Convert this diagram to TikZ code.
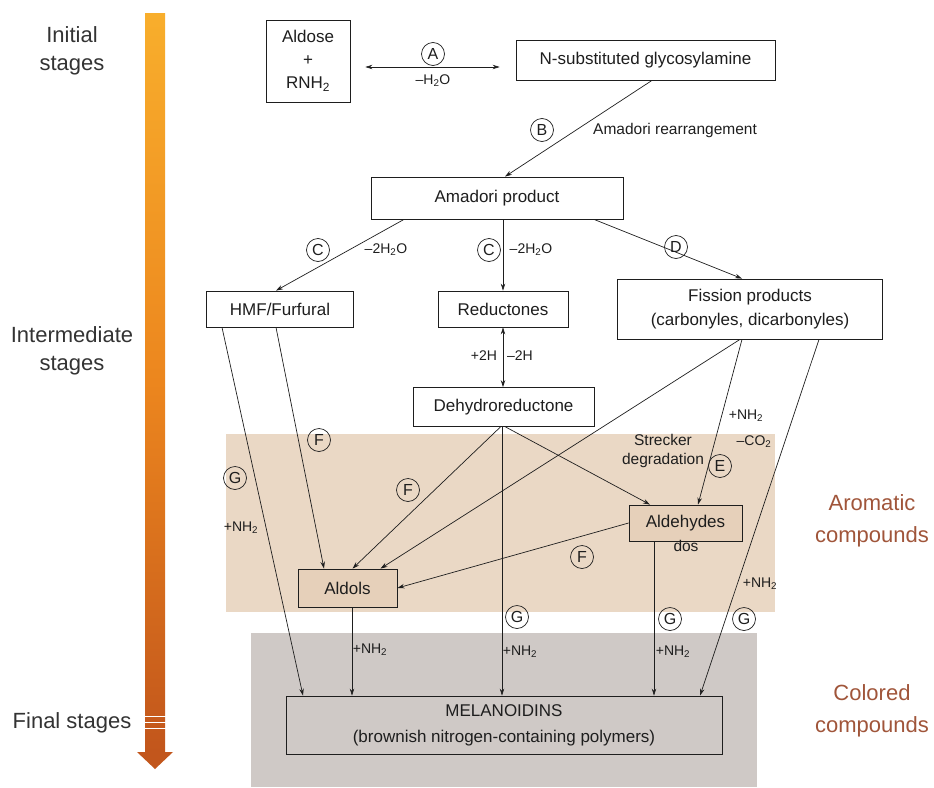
\documentclass[tikz,border=0pt]{standalone}
\usepackage{fontspec}
\setmainfont{Liberation Sans}
\usetikzlibrary{arrows.meta}
\definecolor{tanbg}{HTML}{EAD8C5}
\definecolor{tanbox}{HTML}{E6D0BA}
\definecolor{graybg}{HTML}{CFC9C6}
\definecolor{brownlab}{HTML}{A0553A}
\definecolor{barTop}{HTML}{F8AE2C}
\definecolor{barMid}{HTML}{EC861E}
\definecolor{barBot}{HTML}{C2561C}
\definecolor{ink}{HTML}{1E1E1E}
\begin{document}
\begin{tikzpicture}[x=1pt,y=-1pt,
 box/.style={draw=ink, line width=0.8pt, fill=white, inner sep=0pt, align=center, font=\fontsize{17}{24}\selectfont, text=ink},
 circ/.style={circle, draw=ink, line width=0.7pt, inner sep=0pt, minimum size=23pt, font=\fontsize{16}{16}\selectfont, text=ink},
 lab/.style={inner sep=0pt, font=\fontsize{14}{14}\selectfont, text=ink},
 slab/.style={inner sep=0pt, align=center, font=\fontsize{15.5}{19}\selectfont, text=ink},
 stage/.style={inner sep=0pt, align=center, font=\fontsize{22}{28}\selectfont, text=black!80},
 cat/.style={inner sep=0pt, align=center, font=\fontsize{22}{32}\selectfont, text=brownlab},
 arr/.style={draw=ink, line width=0.7pt, -{Stealth[length=7pt,width=4.5pt]}},
 darr/.style={draw=ink, line width=0.7pt, {Stealth[length=7pt,width=4.5pt]}-{Stealth[length=7pt,width=4.5pt]}},
]
\useasboundingbox (0,0) rectangle (934,787);

% backgrounds
\fill[tanbg] (226,434) rectangle (775,612);
\fill[graybg] (251,633) rectangle (757,787);

% stage bar
\shade[top color=barTop, bottom color=barBot, middle color=barMid] (145,13) rectangle (165,752);
\fill[barBot] (137,752) -- (173,752) -- (155,769) -- cycle;
\foreach \yy in {716,722,728} \draw[white, line width=0.8pt] (141,\yy) -- (167,\yy);

% stage labels
\node[stage] (st1) at (72,51) {Initial\\stages};
\node[stage] (st2) at (72,351) {Intermediate\\stages};
\node[stage] (st3) at (72,723) {Final stages};
\node[cat] (cat1) at (872,521) {Aromatic\\compounds};
\node[cat] (cat2) at (872,711) {Colored\\compounds};

% nodes
\node[box, minimum width=84pt, minimum height=82pt, font=\fontsize{17}{23}\selectfont] (ald) at (308,61) {Aldose\\+\\RNH\textsubscript{2}};
\node[box, minimum width=259pt, minimum height=40pt] (gly) at (645.5,60) {N-substituted glycosylamine};
\node[box, minimum width=252pt, minimum height=42pt] (amad) at (497,198) {Amadori product};
\node[box, minimum width=147pt, minimum height=36pt] (hmf) at (280,309) {HMF/Furfural};
\node[box, minimum width=130pt, minimum height=36pt] (red) at (503,309) {Reductones};
\node[box, minimum width=265pt, minimum height=60pt] (fis) at (750,309) {Fission products\\(carbonyles, dicarbonyles)};
\node[box, minimum width=181pt, minimum height=39pt] (dehyd) at (503.5,407) {Dehydroreductone};
\node[box, fill=tanbox, minimum width=99pt, minimum height=38pt] (aldols) at (347.5,588) {Aldols};
\node[box, fill=tanbox, minimum width=113pt, minimum height=36pt] (aldeh) at (685.5,523) {Aldehydes};
\node[box, fill=none, minimum width=436pt, minimum height=58pt, font=\fontsize{17}{26}\selectfont] (mel) at (504,725) {MELANOIDINS\\(brownish nitrogen-containing polymers)};

% connectors
\draw[darr, shorten <=15pt, shorten >=16pt] ([yshift=-6pt]ald.east) -- ([yshift=-7pt]gly.west);
\draw[arr] ([xshift=6.5pt]gly.south) -- ([xshift=8pt]amad.north);
\draw[arr] ([xshift=-93pt]amad.south) -- ([xshift=-4pt]hmf.north);
\draw[arr] ([xshift=6pt]amad.south) -- (red.north);
\draw[arr] ([xshift=97pt]amad.south) -- ([xshift=-8pt]fis.north);
\draw[darr] (red.south) -- ([xshift=-0.5pt]dehyd.north);
\draw[arr] ([xshift=-58pt]hmf.south) -- ([xshift=-201pt]mel.north);
\draw[arr] ([xshift=-4pt]hmf.south) -- ([xshift=-23.5pt]aldols.north);
\draw[arr] ([xshift=-3pt]dehyd.south) -- ([xshift=5pt]aldols.north);
\draw[arr] ([xshift=-10pt]fis.south) -- ([xshift=33pt]aldols.north);
\draw[arr] (aldeh.west) -- (aldols.east);
\draw[arr] ([xshift=2pt]dehyd.south) -- ([xshift=-35.5pt]aldeh.north);
\draw[arr] ([xshift=-8pt]fis.south) -- ([xshift=12.5pt]aldeh.north);
\draw[arr] ([xshift=-1.5pt]dehyd.south) -- ([xshift=-2pt]mel.north);
\draw[arr] ([xshift=4.5pt]aldols.south) -- ([xshift=-152pt]mel.north);
\draw[arr] ([xshift=-31.5pt]aldeh.south) -- ([xshift=150pt]mel.north);
\draw[arr] ([xshift=69pt]fis.south) -- ([xshift=196pt]mel.north);

% labels
\node[circ] (cA) at (433,54) {A};
\node[lab] (lA) at (433,81) {–H\textsubscript{2}O};
\node[circ] (cB) at (542,130) {B};
\node[lab, anchor=west, font=\fontsize{15.5}{15.5}\selectfont] (lB) at (593,130) {Amadori rearrangement};
\node[circ] (cC1) at (318,250) {C};
\node[lab] (lC1) at (386,250) {–2H\textsubscript{2}O};
\node[circ] (cC2) at (489,250) {C};
\node[lab] (lC2) at (531,250) {–2H\textsubscript{2}O};
\node[circ] (cD) at (676,247) {D};
\node[lab] (lH1) at (484,356) {+2H};
\node[lab] (lH2) at (520,356) {–2H};
\node[circ] (cF1) at (319,440) {F};
\node[circ] (cG1) at (235,478) {G};
\node[lab] (lN1) at (241,528) {+NH\textsubscript{2}};
\node[circ] (cF2) at (408,490) {F};
\node[slab] (strk) at (663,451) {Strecker\\degradation};
\node[lab] (lN2) at (746,416) {+NH\textsubscript{2}};
\node[lab] (lCO) at (754,442) {–CO\textsubscript{2}};
\node[circ] (cE) at (720,466) {E};
\node[circ] (cF3) at (582,557) {F};
\node[slab] (dos) at (686,546) {dos};
\node[circ] (cG2) at (517,617) {G};
\node[lab] (lN3) at (520,652) {+NH\textsubscript{2}};
\node[lab] (lN4) at (370,650) {+NH\textsubscript{2}};
\node[circ] (cG3) at (670,619) {G};
\node[lab] (lN5) at (673,652) {+NH\textsubscript{2}};
\node[lab] (lN6) at (760,584) {+NH\textsubscript{2}};
\node[circ] (cG4) at (744,619) {G};
\end{tikzpicture}
\end{document}
